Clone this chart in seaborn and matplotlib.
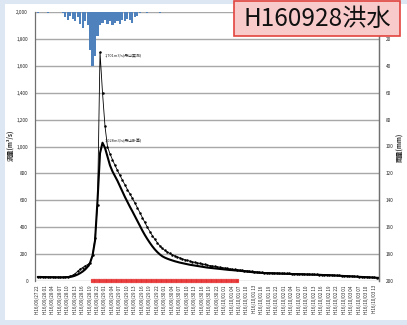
import numpy as np
import pandas as pd
import matplotlib
matplotlib.use("Agg")
import matplotlib.pyplot as plt
from matplotlib.patches import Rectangle
import seaborn as sns

sns.set_style("white")
plt.rcParams['font.family'] = ['Noto Sans CJK JP', 'DejaVu Sans']

# hourly discharge at 丹山 (m3/s), starting H16/09/27 22:00
calc_flow = [30, 30, 29, 29, 28, 28, 28, 27, 27, 27, 27, 28,
             29, 31, 34, 40, 48, 58, 70, 85, 105, 135, 190, 300,
             600, 950, 1028, 990, 925, 860, 815, 780, 745, 705, 665, 625,
             588, 552, 518, 482, 446, 410, 375, 342, 312, 284, 258, 235,
             215, 198, 184, 174, 166, 159, 153, 147, 142, 137, 133, 129,
             125, 121, 118, 115, 112, 109, 106, 103, 100, 98, 96, 94,
             92, 90, 88, 86, 84, 82, 81, 79, 78, 76, 74, 72,
             70, 68, 66, 64, 63, 61, 60, 59, 58, 58, 57, 56,
             56, 55, 54, 54, 53, 53, 52, 51, 51, 50, 50, 49,
             48, 48, 47, 47, 46, 46, 45, 44, 44, 43, 42, 41,
             40, 39, 38, 37, 36, 35, 34, 33, 32, 31, 30, 29,
             28, 27, 26, 25, 24, 23]

obs_flow = [32, 32, 31, 31, 30, 30, 30, 30, 29, 29, 29, 30,
            32, 36, 42, 55, 72, 88, 100, 112, 122, 135, 190, 320,
            565, 1701, 1400, 1150, 1000, 945, 903, 860, 822, 785, 750, 715,
            680, 648, 615, 580, 545, 508, 470, 435, 400, 368, 338, 310,
            285, 262, 242, 228, 216, 205, 196, 187, 179, 172, 165, 159,
            153, 148, 143, 139, 135, 131, 127, 123, 119, 115, 112, 109,
            106, 103, 100, 97, 94, 91, 88, 86, 84, 82, 80, 78,
            76, 74, 72, 70, 68, 66, 64, 63, 62, 61, 60, 60,
            59, 58, 58, 57, 56, 56, 55, 54, 54, 53, 53, 52,
            51, 51, 50, 49, 49, 48, 47, 47, 46, 45, 44, 43,
            42, 41, 40, 39, 38, 37, 36, 35, 34, 33, 32, 31,
            30, 29, 28, 27, 26, 25]

# hourly basin rainfall (mm)
rain_mm = [0.5, 0, 0, 0, 0.5, 0, 0, 0, 0, 0, 1, 4,
           6, 3, 5, 7, 4, 9, 12, 7, 10, 28, 40, 33,
           18, 10, 8, 6, 9, 7, 10, 8, 7, 9, 6, 7,
           5, 6, 8, 4, 3, 1, 0, 0, 0.5, 0, 0, 0,
           0, 0.5]

flood_start, flood_end = 22, 80
start_time = "2004-09-27 22:00"
title_text = "H160928洪水"

hours = np.arange(len(calc_flow))
times = pd.date_range(start_time, periods=len(hours), freq="h")
tick_hours = hours[::3]
tick_labels = [f"H16/{t.month:02d}/{t.day:02d} {t.hour:02d}" for t in times[::3]]

df = pd.DataFrame({"hour": hours, "calc": calc_flow, "obs": obs_flow})
rain_df = pd.DataFrame({"hour": np.arange(len(rain_mm)), "rain": rain_mm})

W, H = 407, 325
fig = plt.figure(figsize=(W / 100, H / 100), dpi=100)
fig.patch.set_facecolor('#DCE7F3')
fig.patches.append(Rectangle((5 / W, 1 - 320 / H), (W - 5) / W, 316 / H,
                             transform=fig.transFigure, fc='white', ec='none', zorder=-10))

ax = fig.add_axes([35 / W, 1 - 281 / H, 344 / W, 269 / H])
ax.set_facecolor('white')

sns.lineplot(data=df, x="hour", y="calc", ax=ax, color='black', lw=1.5, zorder=3)
sns.lineplot(data=df, x="hour", y="obs", ax=ax, color='black', lw=0.6,
             marker='o', markersize=1.8, markeredgewidth=0, zorder=4)

fh = hours[(hours >= flood_start) & (hours <= flood_end)]
ax.plot(fh, np.zeros(len(fh)), ls='none', marker='s', ms=3.0, color='#E53030',
        mec='#F4A0A0', mew=0.2, clip_on=False, zorder=5)

ax.set_xlim(-1.1, 137.0)
ax.set_ylim(0, 2000)
ax.set_yticks(np.arange(0, 2001, 200))
ax.set_yticklabels([f"{v:,}" for v in range(0, 2001, 200)])
ax.set_xticks(tick_hours)
ax.set_xticklabels(tick_labels, rotation=90)
ax.tick_params(axis='x', labelsize=3.3, length=2, width=0.4, color='#909090', pad=1)
ax.tick_params(axis='y', labelsize=3.4, length=0, pad=5)
ax.grid(axis='y', color='#A8A8A8', lw=1.0)
ax.set_axisbelow(True)
ax.set_xlabel("")
ax.set_ylabel("")
for s in ['top', 'bottom']:
    ax.spines[s].set_visible(False)
for s in ['left', 'right']:
    ax.spines[s].set_color('#707070')
    ax.spines[s].set_linewidth(0.9)

peak_i = int(np.argmax(obs_flow))
ax.annotate(f"{obs_flow[peak_i]:,}m3/s(丹山実測)", xy=(hours[peak_i], obs_flow[peak_i]),
            xytext=(3, -2), textcoords='offset points', fontsize=2.8, va='center')
cpeak_i = int(np.argmax(calc_flow))
ax.annotate(f"{calc_flow[cpeak_i]:,}m3/s(丹山計算)", xy=(hours[cpeak_i], calc_flow[cpeak_i]),
            xytext=(1.5, 1), textcoords='offset points', fontsize=2.8, va='center')

ax2 = ax.twinx()
sns.barplot(data=rain_df, x="hour", y="rain", ax=ax2, native_scale=True,
            color='#4F81BD', width=0.85, errorbar=None, saturation=1,
            linewidth=0, edgecolor='none')
ax2.set_xlim(-1.1, 137.0)
ax2.set_ylim(200, 0)
ax2.set_yticks(np.arange(0, 201, 20))
# the top label sits under the title box
ax2.set_yticklabels([""] + [str(v) for v in range(20, 201, 20)])
ax2.tick_params(axis='y', labelsize=3.4, length=0, pad=5)
ax2.set_xlabel("")
ax2.set_ylabel("")
for s in ['top', 'bottom', 'left']:
    ax2.spines[s].set_visible(False)
ax2.spines['right'].set_color('#707070')
ax2.spines['right'].set_linewidth(0.9)

fig.text(10 / W, 1 - 145 / H, "流量(m³/s)", rotation=90, fontsize=4.5,
         fontweight='bold', ha='center', va='center')
fig.text(400 / W, 1 - 147 / H, "雨量(mm)", rotation=90, fontsize=4.5,
         fontweight='bold', ha='center', va='center')

fig.patches.append(Rectangle((234 / W, 1 - 36 / H), 166 / W, 35 / H,
                             transform=fig.transFigure, fc='#F8CACA', ec='#E2443E',
                             lw=1.2, zorder=5))
fig.text(317 / W, 1 - 19 / H, title_text, fontsize=17.5, ha='center', va='center',
         color='#111111', zorder=6)

fig.savefig("out.png", dpi=100, facecolor=fig.get_facecolor())
